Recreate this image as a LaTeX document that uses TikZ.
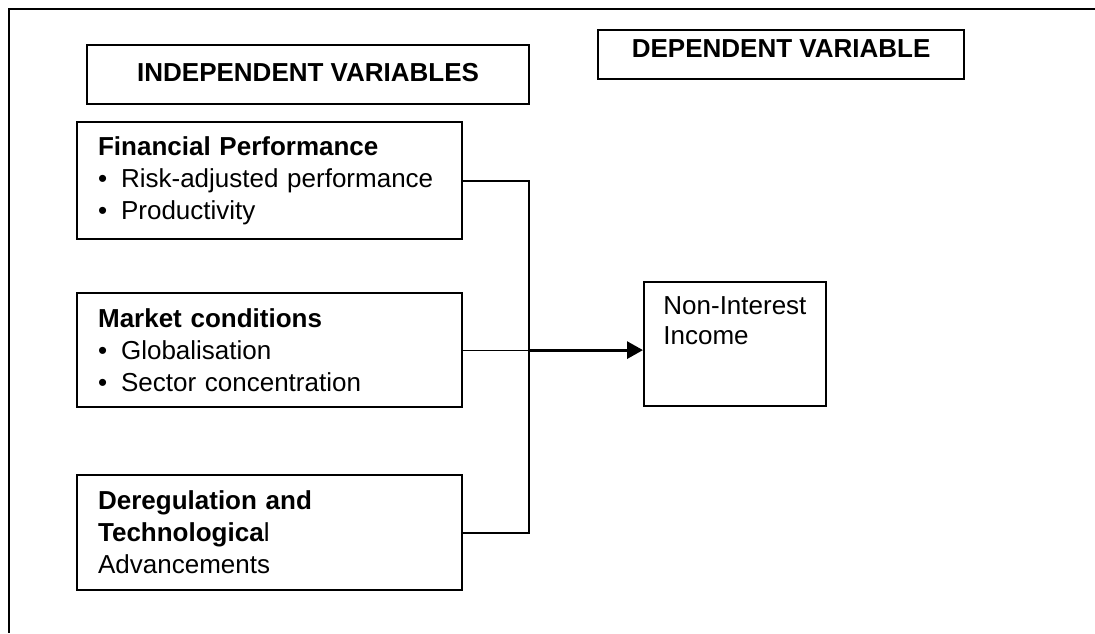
\documentclass[tikz,border=0pt]{standalone}
\usepackage{fontspec}
\setmainfont{Liberation Sans}
\usetikzlibrary{arrows.meta}
\newcommand{\bulitem}{\makebox[11.5pt][l]{\textbullet}}
\begin{document}
\begin{tikzpicture}[x=0.5pt,y=-0.5pt,
		font=\fontsize{13}{16}\selectfont,
		head/.style={draw,line width=1.1pt,font=\fontsize{13}{16}\selectfont\bfseries,inner sep=0pt,anchor=north west},
		varbox/.style={draw,line width=1.1pt,anchor=north west,align=left,text width=171.5pt,inner xsep=10.5pt,inner ysep=0pt},
		link/.style={line width=1.1pt},
		arr/.style={line width=1.5pt,-{Triangle[length=8pt,width=8.5pt]}}]
		\useasboundingbox (0,0) rectangle (1095,633);
		\draw[line width=1.2pt] (1095,9)--(9,9)--(9,633);
		\node[head,minimum width=221pt,text height=18pt,text depth=11.5pt] (indep) at (86,44) {INDEPENDENT VARIABLES};
		\node[head,minimum width=183pt,text height=13.5pt,text depth=11pt] (dep) at (597,29) {DEPENDENT VARIABLE};
		\node[varbox,minimum height=58.5pt] (fin) at (76,121) {\textbf{Financial Performance}\\ \bulitem Risk-adjusted performance\\ \bulitem Productivity};
		\node[varbox,minimum height=57pt] (mkt) at (76,292) {\textbf{Market conditions}\\ \bulitem Globalisation\\ \bulitem Sector concentration};
		\node[varbox,minimum height=57.5pt] (dereg) at (76,474) {\textbf{Deregulation and}\\ \textbf{Technologica}l\\ Advancements};
		\node[draw,line width=1.1pt,anchor=north west,minimum width=91pt,minimum height=62pt,inner sep=0pt,
			label={[anchor=north west,align=left,inner xsep=10pt,inner ysep=7.7pt,font=\fontsize{13}{15}\selectfont]north west:Non-Interest\\Income}] (inc) at (643,281) {};
		\path (mkt.east) ++(66,0) coordinate (jn);
		\draw[link] (fin.east) -| (jn) |- (dereg.east);
		\draw[line width=0.6pt] (mkt.east) -- (jn);
		\draw[arr] (jn) -- (jn -| inc.west);
	    \end{tikzpicture}
\end{document}
